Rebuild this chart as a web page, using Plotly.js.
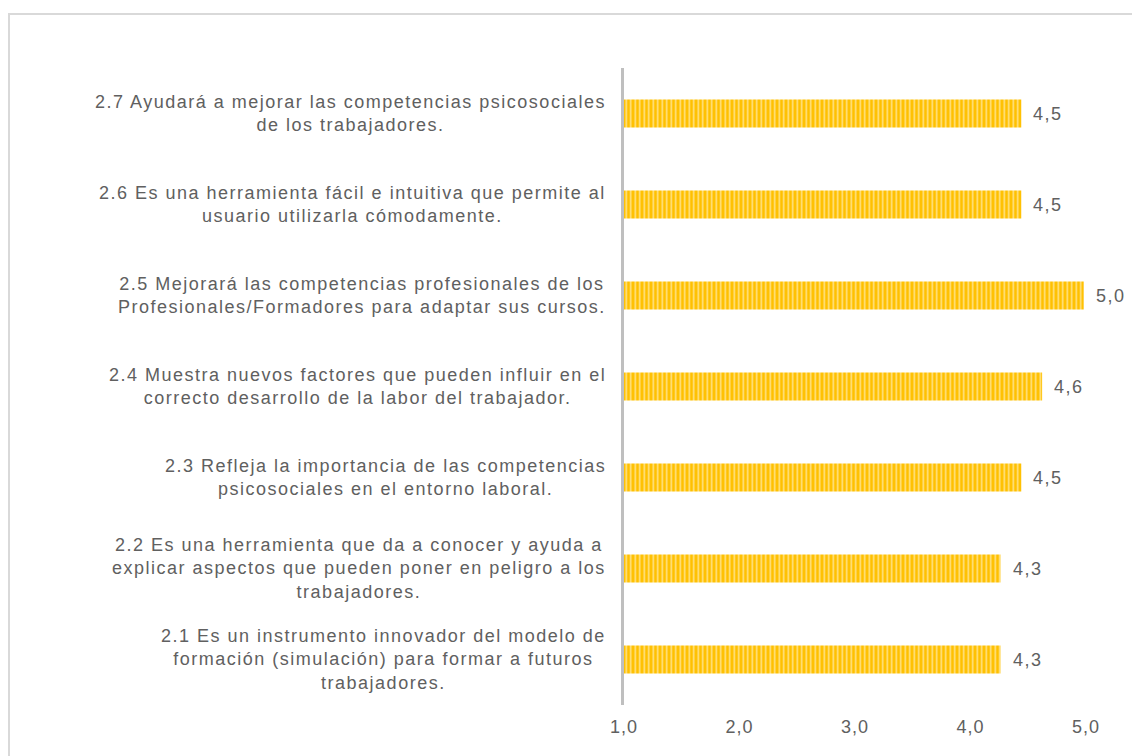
<!DOCTYPE html>
<html>
<head>
<meta charset="utf-8">
<script src="https://cdn.plot.ly/plotly-3.0.1.min.js"></script>
<style>
  html, body { margin: 0; padding: 0; background: #ffffff; overflow: hidden; }
  #chart { position: absolute; left: 0; top: 0; width: 1132px; height: 756px; }
  #frame { position: absolute; left: 8px; top: 13px; width: 1130px; height: 760px;
           border-top: 2px solid #D9D9D9; border-left: 2px solid #D9D9D9; pointer-events: none; }
  /* the reference text is set a little wide */
  .annotation-text { letter-spacing: 1.5px; }
  .xtick text { letter-spacing: 1px; }
</style>
</head>
<body>
<div id="chart"></div>
<div id="frame"></div>
<script>
// ---- data ----
const categories = ["2.1", "2.2", "2.3", "2.4", "2.5", "2.6", "2.7"];
const categoryLabels = [
  "2.1 Es un instrumento innovador del modelo de<br>formación (simulación) para formar a futuros<br>trabajadores.",
  "2.2 Es una herramienta que da a conocer y ayuda a<br>explicar aspectos que pueden poner en peligro a los<br>trabajadores.",
  "2.3 Refleja la importancia de las competencias<br>psicosociales en el entorno laboral.",
  "2.4 Muestra nuevos factores que pueden influir en el<br>correcto desarrollo de la labor del trabajador.",
  "2.5 Mejorará las competencias profesionales de los<br>Profesionales/Formadores para adaptar sus cursos.",
  "2.6 Es una herramienta fácil e intuitiva que permite al<br>usuario utilizarla cómodamente.",
  "2.7 Ayudará a mejorar las competencias psicosociales<br>de los trabajadores."
];
const values = [4.26, 4.26, 4.44, 4.62, 4.98, 4.44, 4.44];
const valueLabels = ["4,3", "4,3", "4,5", "4,6", "5,0", "4,5", "4,5"];
const tickValues = [1, 2, 3, 4, 5];

// ---- styles ----
const textColor = "#606060";
const fontFamily = "Liberation Sans, Arial, sans-serif";

const trace = {
  type: "bar",
  orientation: "h",
  y: categories,
  x: values,
  width: 0.31,
  marker: {
    color: "#FFC000",
    line: { width: 0 },
    pattern: { shape: "|", fgcolor: "#FFE38A", bgcolor: "#FFC000", size: 4.5, solidity: 0.35 }
  },
  hoverinfo: "none"
};

const annotations = [];
categories.forEach((c, i) => {
  // on a category axis, annotation positions are given as the category index
  annotations.push({
    xref: "paper", yref: "y", x: 0, y: i, xanchor: "right", yanchor: "middle",
    xshift: -16, align: "center", showarrow: false, text: categoryLabels[i],
    font: { family: fontFamily, size: 18, color: textColor }
  });
  annotations.push({
    xref: "x", yref: "y", x: values[i], y: i, xanchor: "left", yanchor: "middle",
    xshift: 10, showarrow: false, text: valueLabels[i],
    font: { family: fontFamily, size: 18, color: textColor }
  });
});

const layout = {
  width: 1132, height: 756,
  margin: { l: 624, r: 46, t: 68, b: 51, pad: 0 },
  paper_bgcolor: "rgba(0,0,0,0)",
  plot_bgcolor: "rgba(0,0,0,0)",
  separators: ",.",
  showlegend: false,
  font: { family: fontFamily, color: textColor },
  xaxis: {
    range: [1, 5], tickvals: tickValues, tickformat: ".1f",
    showgrid: false, zeroline: false, showline: false, ticks: "",
    tickfont: { family: fontFamily, size: 18, color: textColor },
    ticklabelstandoff: 9, fixedrange: true
  },
  yaxis: {
    type: "category", categoryorder: "array", categoryarray: categories,
    showticklabels: false, showgrid: false, zeroline: false,
    showline: true, linecolor: "#BFBFBF", linewidth: 3, ticks: "", fixedrange: true
  },
  annotations: annotations
};

Plotly.newPlot("chart", [trace], layout, { displayModeBar: false, staticPlot: true });
</script>
</body>
</html>
